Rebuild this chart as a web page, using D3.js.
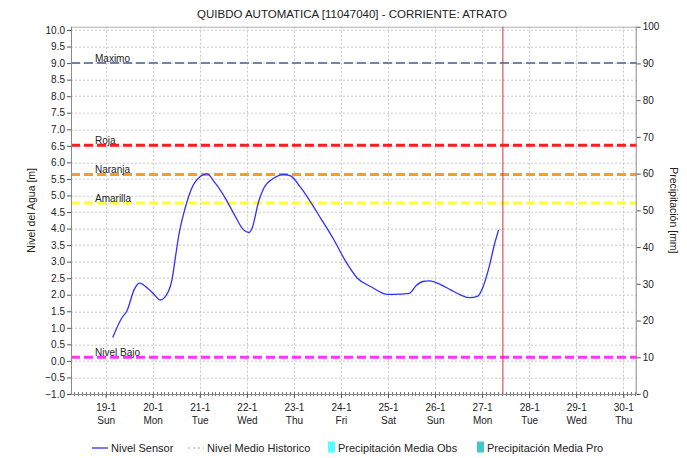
<!DOCTYPE html>
<html>
<head>
<meta charset="utf-8">
<script src="https://cdn.jsdelivr.net/npm/d3@7"></script>
<style>
  body { margin: 0; background: #fff; }
  svg text { font-family: "Liberation Sans", Arial, sans-serif; fill: #222; }
  .grid line { stroke: #c8c8c8; stroke-dasharray: 2,2; }
</style>
</head>
<body>
<div id="chart"></div>
<script>
// QUIBDO AUTOMATICA - nivel del agua (m) vs tiempo

const title = "QUIBDO AUTOMATICA [11047040] - CORRIENTE: ATRATO";

// sensor readings
const times = [
  "2025-01-19T03:36", "2025-01-19T08:10", "2025-01-19T10:50", "2025-01-19T14:40",
  "2025-01-19T17:17", "2025-01-19T21:50", "2025-01-20T00:15", "2025-01-20T03:50",
  "2025-01-20T07:55", "2025-01-20T09:50", "2025-01-20T11:30", "2025-01-20T13:12",
  "2025-01-20T16:34", "2025-01-20T19:55", "2025-01-21T00:15", "2025-01-21T03:36",
  "2025-01-21T07:55", "2025-01-21T13:00", "2025-01-21T17:17", "2025-01-21T22:20",
  "2025-01-22T01:00", "2025-01-22T02:40", "2025-01-22T06:00", "2025-01-22T08:38",
  "2025-01-22T13:41", "2025-01-22T18:58", "2025-01-22T22:20", "2025-01-23T03:22",
  "2025-01-23T08:38", "2025-01-23T13:41", "2025-01-23T20:24", "2025-01-24T02:30",
  "2025-01-24T08:24", "2025-01-24T15:22", "2025-01-24T23:46", "2025-01-25T06:43",
  "2025-01-25T10:48", "2025-01-25T14:24", "2025-01-25T17:46", "2025-01-25T21:07",
  "2025-01-26T03:07", "2025-01-26T08:10", "2025-01-26T13:12", "2025-01-26T17:31",
  "2025-01-26T21:50", "2025-01-27T00:29", "2025-01-27T03:50", "2025-01-27T06:14",
  "2025-01-27T08:24"
];
const levels = [
  0.71, 1.29, 1.51, 2.17,
  2.35, 2.17, 2.04, 1.84,
  2.09, 2.45, 3.10, 3.76,
  4.62, 5.22, 5.57, 5.65,
  5.37, 4.92, 4.46, 3.96,
  3.88, 4.01, 4.81, 5.22,
  5.52, 5.64, 5.59, 5.25,
  4.79, 4.31, 3.66, 3.00,
  2.50, 2.24, 2.01, 2.02,
  2.04, 2.28, 2.40, 2.42,
  2.30, 2.14, 1.99, 1.91,
  1.96, 2.24, 2.90, 3.51,
  3.96
];

// threshold levels
const thresholdNames  = ["Maximo", "Roja", "Naranja", "Amarilla", "Nivel Bajo"];
const thresholdValues = [9.0, 6.52, 5.63, 4.77, 0.11];
const thresholdColors = ["#7182ad", "#ff1c1c", "#ff9a26", "#ffff30", "#ff33ff"];
const thresholdWidths = [2, 3, 3, 3, 3];

const nowTime = "2025-01-27T10:35";
const timeStart = "2025-01-18T06:20";
const timeEnd = "2025-01-30T06:50";

const legendLabels = ["Nivel Sensor", "Nivel Medio Historico", "Precipitación Media Obs", "Precipitación Media Pro"];

function drawChart() {
  const width = 687, height = 458;
  const margin = { top: 26.7, right: 50.3, bottom: 64, left: 71 };
  const plot_width = width - margin.left - margin.right;
  const plot_height = height - margin.top - margin.bottom;

  const parse = d3.timeParse("%Y-%m-%dT%H:%M");
  const data = times.map((t, i) => ({ t: parse(t), v: levels[i] }));

  const svg = d3.select("#chart").append("svg")
    .attr("width", width).attr("height", height);

  const plot = svg.append("g")
    .attr("transform", `translate(${margin.left},${margin.top})`);

  // SCALES
  const xScale = d3.scaleTime()
    .domain([parse(timeStart), parse(timeEnd)])
    .range([0, plot_width]);
  const yScale = d3.scaleLinear().domain([-1, 10.1]).range([plot_height, 0]);
  const y2Scale = d3.scaleLinear().domain([0, 100]).range([plot_height, 0]);

  const days = d3.timeDay.range(d3.timeDay.ceil(xScale.domain()[0]), xScale.domain()[1]);
  const yTicks = d3.range(-1, 10.01, 0.5);

  // GRID
  const grid = plot.append("g").attr("class", "grid");
  grid.selectAll(".h").data(yTicks.filter(d => d > -1)).join("line")
    .attr("x1", 0).attr("x2", plot_width)
    .attr("y1", d => Math.round(yScale(d)) + 0.5).attr("y2", d => Math.round(yScale(d)) + 0.5);
  grid.selectAll(".v").data(days).join("line")
    .attr("x1", d => Math.round(xScale(d)) + 0.5).attr("x2", d => Math.round(xScale(d)) + 0.5)
    .attr("y1", 0).attr("y2", plot_height);

  // top border
  plot.append("line")
    .attr("x1", 0).attr("x2", plot_width).attr("y1", 0.5).attr("y2", 0.5)
    .attr("stroke", "#b0b0b0");

  // THRESHOLDS
  thresholdValues.forEach((v, i) => {
    plot.append("line")
      .attr("x1", 0).attr("x2", plot_width)
      .attr("y1", yScale(v)).attr("y2", yScale(v))
      .attr("stroke", thresholdColors[i])
      .attr("stroke-width", thresholdWidths[i])
      .attr("stroke-dasharray", "9,4");
    plot.append("text")
      .attr("x", 24).attr("y", yScale(v) - 1.5)
      .style("font-size", "10px")
      .text(thresholdNames[i]);
  });

  // CURRENT TIME
  plot.append("line")
    .attr("x1", xScale(parse(nowTime))).attr("x2", xScale(parse(nowTime)))
    .attr("y1", 0).attr("y2", plot_height)
    .attr("stroke", "#d93036").attr("stroke-width", 1);

  // SENSOR LINE
  const lineGen = d3.line()
    .x(d => xScale(d.t)).y(d => yScale(d.v))
    .curve(d3.curveMonotoneX);
  plot.append("path").datum(data)
    .attr("d", lineGen)
    .attr("fill", "none")
    .attr("stroke", "#3030ff")
    .attr("stroke-width", 1.3);

  // AXES
  const axisColor = "#8a8a8a";
  const yAxis = plot.append("g")
    .call(d3.axisLeft(yScale).tickValues(yTicks).tickFormat(d3.format(".1f")).tickSize(4).tickPadding(2));
  const y2Axis = plot.append("g")
    .attr("transform", `translate(${plot_width},0)`)
    .call(d3.axisRight(y2Scale).ticks(10).tickSize(4).tickPadding(2));
  [yAxis, y2Axis].forEach(a => {
    a.select(".domain").attr("stroke", axisColor).attr("d", a === yAxis
      ? `M0.5,0V${plot_height}` : `M-0.5,0V${plot_height}`);
    a.selectAll(".tick line").attr("stroke", "#555");
    a.selectAll("text").style("font-size", "10px").attr("fill", "#222");
  });

  // minor ticks along the bottom
  const hours = d3.timeHour.every(2).range(xScale.domain()[0], xScale.domain()[1]);
  plot.append("g").selectAll("line").data(hours).join("line")
    .attr("x1", d => Math.round(xScale(d)) + 0.5).attr("x2", d => Math.round(xScale(d)) + 0.5)
    .attr("y1", plot_height - 2).attr("y2", plot_height + 2)
    .attr("stroke", "#777");
  plot.append("line")
    .attr("x1", 0).attr("x2", plot_width)
    .attr("y1", plot_height + 0.5).attr("y2", plot_height + 0.5)
    .attr("stroke", axisColor);

  const xAxis = plot.append("g")
    .attr("transform", `translate(0,${plot_height})`)
    .call(d3.axisBottom(xScale).tickValues(days).tickSize(4).tickFormat(""));
  xAxis.select(".domain").remove();
  xAxis.selectAll(".tick line").attr("stroke", "#555");
  const fmtDay = d3.timeFormat("%-d-%-m");
  const fmtWd = d3.timeFormat("%a");
  const lab = xAxis.selectAll(".tick").append("text")
    .attr("text-anchor", "middle").style("font-size", "10px").attr("fill", "#222");
  lab.append("tspan").attr("x", 0).attr("y", 17).text(d => fmtDay(d));
  lab.append("tspan").attr("x", 0).attr("y", 30).text(d => fmtWd(d));

  // AXIS LABELS
  svg.append("text")
    .attr("transform", `translate(35,${margin.top + plot_height / 2}) rotate(-90)`)
    .attr("text-anchor", "middle").style("font-size", "10.5px")
    .text("Nivel del Agua [m]");
  svg.append("text")
    .attr("transform", `translate(670,${margin.top + plot_height / 2}) rotate(90)`)
    .attr("text-anchor", "middle").style("font-size", "10.5px")
    .text("Precipitación [mm]");

  // TITLE
  svg.append("text")
    .attr("x", 352).attr("y", 18)
    .attr("text-anchor", "middle").style("font-size", "11.5px")
    .text(title);

  // LEGEND
  const ly = 448;
  const leg = svg.append("g");
  leg.append("line").attr("x1", 92).attr("x2", 108).attr("y1", ly).attr("y2", ly)
    .attr("stroke", "#3030ff").attr("stroke-width", 1.3);
  leg.append("text").attr("x", 111).attr("y", ly + 4).style("font-size", "11px").text(legendLabels[0]);
  leg.append("line").attr("x1", 188).attr("x2", 204).attr("y1", ly).attr("y2", ly)
    .attr("stroke", "#c0c0c0").attr("stroke-width", 1.5).attr("stroke-dasharray", "2,3");
  leg.append("text").attr("x", 207).attr("y", ly + 4).style("font-size", "11px").text(legendLabels[1]);
  leg.append("rect").attr("x", 328).attr("y", 441.5).attr("width", 7).attr("height", 11).attr("fill", "#55ffff");
  leg.append("text").attr("x", 338).attr("y", ly + 4).style("font-size", "11px").text(legendLabels[2]);
  leg.append("rect").attr("x", 477).attr("y", 441.5).attr("width", 7).attr("height", 11).attr("fill", "#40c8c8");
  leg.append("text").attr("x", 487).attr("y", ly + 4).style("font-size", "11px").text(legendLabels[3]);
}

drawChart();
</script>
</body>
</html>
